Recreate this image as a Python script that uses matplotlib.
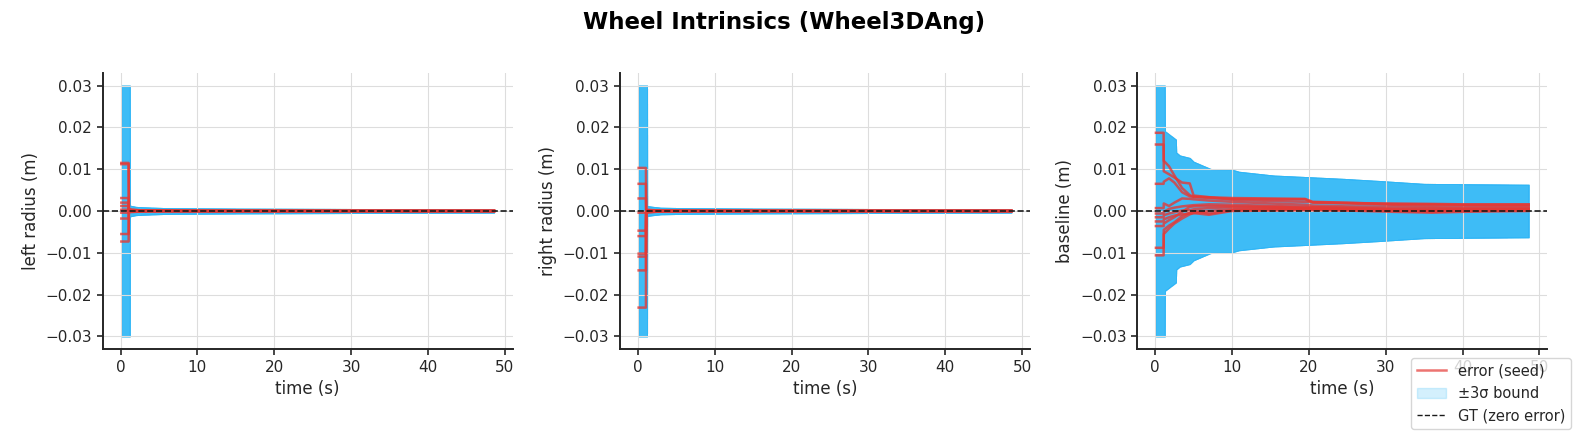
import numpy as np
import matplotlib
matplotlib.use("Agg")
import matplotlib.pyplot as plt
from matplotlib.lines import Line2D
from matplotlib.patches import Patch

# time knots (s) shared by the radius seeds
radius_t = [0.1, 1.05, 1.08, 3.0, 10.0, 48.6]
# left radius error per seed (m)
left_radius_err = [
    [0.0115, 0.0115, 0.0004, 0.0001, 0.0000, 0.0000],
    [0.0112, 0.0112, 0.0003, 0.0001, 0.0000, 0.0000],
    [0.0031, 0.0031, 0.0002, 0.0001, 0.0000, 0.0000],
    [0.0020, 0.0020, 0.0001, 0.0000, 0.0000, 0.0000],
    [0.0012, 0.0012, 0.0000, 0.0000, 0.0000, 0.0000],
    [0.0003, 0.0003, -0.0001, 0.0000, 0.0000, 0.0000],
    [-0.0004, -0.0004, -0.0002, -0.0001, 0.0000, 0.0000],
    [-0.0018, -0.0018, -0.0003, -0.0001, 0.0000, 0.0000],
    [-0.0055, -0.0055, -0.0001, 0.0000, 0.0000, 0.0000],
    [-0.0073, -0.0073, 0.0002, 0.0001, 0.0000, 0.0000],
]
right_radius_err = [
    [0.0103, 0.0103, 0.0003, 0.0001, 0.0000, 0.0000],
    [0.0065, 0.0065, 0.0002, 0.0001, 0.0000, 0.0000],
    [0.0030, 0.0030, 0.0001, 0.0000, 0.0000, 0.0000],
    [-0.0004, -0.0004, 0.0000, 0.0000, 0.0000, 0.0000],
    [-0.0047, -0.0047, -0.0001, 0.0000, 0.0000, 0.0000],
    [-0.0060, -0.0060, -0.0002, -0.0001, 0.0000, 0.0000],
    [-0.0102, -0.0102, -0.0003, -0.0001, 0.0000, 0.0000],
    [-0.0109, -0.0109, -0.0002, 0.0000, 0.0000, 0.0000],
    [-0.0142, -0.0142, 0.0001, 0.0000, 0.0000, 0.0000],
    [-0.0231, -0.0231, -0.0004, -0.0001, 0.0000, 0.0000],
]
# 3-sigma envelope for the radii
radius_sig_t = [0.1, 1.2, 1.22, 2.0, 3.0, 6.0, 15.0, 30.0, 48.6]
left_radius_sig = [0.03, 0.03, 0.0013, 0.0010, 0.0009, 0.0007, 0.0006, 0.0005, 0.0004]
right_radius_sig = [0.03, 0.03, 0.0012, 0.0010, 0.0008, 0.0007, 0.0006, 0.0005, 0.0004]

# baseline
baseline_t = [0.1, 1.1, 1.12, 1.8, 2.5, 3.5, 4.5, 5.0, 7.0, 10.0, 15.0, 19.5, 20.5, 25.0, 31.0, 36.0, 40.0, 48.6]
baseline_err = [
    [0.0187, 0.0187, 0.0120, 0.0107, 0.0085, 0.0055, 0.0038, 0.0034, 0.0031, 0.0029, 0.0028, 0.0028, 0.0020, 0.0018, 0.0015, 0.0014, 0.0013, 0.0012],
    [0.0159, 0.0159, 0.0095, 0.0088, 0.0080, 0.0068, 0.0066, 0.0037, 0.0033, 0.0031, 0.0030, 0.0029, 0.0022, 0.0020, 0.0016, 0.0016, 0.0015, 0.0015],
    [0.0065, 0.0065, 0.0070, 0.0078, 0.0068, 0.0045, 0.0035, 0.0034, 0.0033, 0.0027, 0.0024, 0.0022, 0.0021, 0.0019, 0.0018, 0.0017, 0.0016, 0.0016],
    [0.0007, 0.0007, 0.0018, 0.0012, 0.0020, 0.0030, 0.0029, 0.0028, 0.0025, 0.0022, 0.0018, 0.0015, 0.0013, 0.0011, 0.0010, 0.0009, 0.0008, 0.0008],
    [-0.0006, -0.0006, -0.0002, 0.0005, 0.0008, 0.0011, 0.0013, 0.0014, 0.0016, 0.0015, 0.0012, 0.0010, 0.0009, 0.0008, 0.0005, 0.0006, 0.0006, 0.0006],
    [-0.0015, -0.0015, -0.0010, -0.0006, -0.0003, 0.0001, 0.0002, 0.0004, 0.0007, 0.0009, 0.0008, 0.0007, 0.0007, 0.0005, 0.0003, 0.0002, 0.0003, 0.0004],
    [-0.0025, -0.0025, -0.0020, -0.0015, -0.0011, -0.0008, -0.0006, -0.0005, 0.0000, 0.0004, 0.0006, 0.0006, 0.0005, 0.0003, 0.0000, -0.0002, 0.0000, 0.0002],
    [-0.0036, -0.0036, -0.0030, -0.0022, -0.0015, -0.0002, 0.0010, 0.0011, 0.0012, 0.0011, 0.0010, 0.0008, 0.0008, 0.0006, 0.0004, 0.0003, 0.0003, 0.0003],
    [-0.0088, -0.0088, -0.0045, -0.0035, -0.0027, -0.0012, -0.0004, 0.0000, -0.0006, 0.0002, 0.0003, 0.0003, 0.0003, 0.0002, 0.0001, 0.0000, 0.0001, 0.0001],
    [-0.0106, -0.0106, -0.0055, -0.0042, -0.0030, -0.0018, -0.0008, -0.0005, -0.0009, 0.0000, 0.0001, 0.0002, 0.0002, 0.0001, -0.0002, -0.0004, -0.0002, 0.0000],
]
baseline_sig_t = [0.1, 1.25, 1.27, 2.7, 2.75, 3.2, 4.5, 5.0, 6.4, 7.3, 10.0, 10.9, 15.4, 20.0, 24.5, 29.1, 35.0, 48.6]
baseline_sig = [0.03, 0.03, 0.0191, 0.0171, 0.0140, 0.0133, 0.0127, 0.0118, 0.0107, 0.0100, 0.0099, 0.0094, 0.0085, 0.0081, 0.0077, 0.0072, 0.0065, 0.0063]

panels = [
    ("left radius (m)", radius_t, left_radius_err, radius_sig_t, left_radius_sig),
    ("right radius (m)", radius_t, right_radius_err, radius_sig_t, right_radius_sig),
    ("baseline (m)", baseline_t, baseline_err, baseline_sig_t, baseline_sig),
]

ERR_COLOR = "#e53935"
SIG_COLOR = "#29b6f6"
INK = "#262626"

plt.rcParams.update({
    "font.family": "DejaVu Sans",
    "text.color": INK,
    "axes.labelcolor": INK,
    "axes.edgecolor": INK,
    "xtick.color": INK,
    "ytick.color": INK,
    "axes.linewidth": 1.4,
    "xtick.major.size": 4.2,
    "ytick.major.size": 4.2,
    "xtick.major.width": 1.2,
    "ytick.major.width": 1.2,
    "xtick.labelsize": 11,
    "ytick.labelsize": 11,
    "axes.labelsize": 12,
})

W, H = 1579, 434
fig = plt.figure(figsize=(W / 100, H / 100), dpi=100)
lefts = [102.7, 620.0, 1137.3]
for (ylabel, t, errs, sig_t, sig), lx in zip(panels, lefts):
    ax = fig.add_axes([lx / W, (H - 349) / H, 410 / W, 276 / H])
    st = np.array(sig_t)
    sg = np.array(sig)
    for e in errs:
        ax.fill_between(st, -sg, sg, color=SIG_COLOR, alpha=0.2, lw=0.6)
    for e in errs:
        ax.plot(t, e, color=ERR_COLOR, alpha=0.8, lw=1.8)
    ax.axhline(0, color="#1a1a1a", ls="--", lw=1.2, zorder=5)
    ax.grid(True, color="#dddddd", lw=0.8)
    ax.set_axisbelow("line")
    ax.spines["top"].set_visible(False)
    ax.spines["right"].set_visible(False)
    ax.set_xticks([0, 10, 20, 30, 40, 50])
    ax.set_yticks([-0.03, -0.02, -0.01, 0.0, 0.01, 0.02, 0.03])
    ax.set_xlabel("time (s)")
    ax.set_ylabel(ylabel)

fig.suptitle("Wheel Intrinsics (Wheel3DAng)", x=784 / W, y=1 - 22 / H,
             va="center", fontsize=16.5, fontweight="bold", color="black")

handles = [
    Line2D([], [], color=ERR_COLOR, alpha=0.7, lw=1.8),
    Patch(facecolor=SIG_COLOR, edgecolor=SIG_COLOR, alpha=0.2),
    Line2D([], [], color="#1a1a1a", ls="--", lw=1.0),
]
fig.legend(handles, ["error (seed)", "\u00b13\u03c3 bound", "GT (zero error)"],
           loc="lower right", bbox_to_anchor=(1571 / W, 5 / H),
           borderaxespad=0, fontsize=10.5, framealpha=0.8, edgecolor="#cccccc")

fig.savefig("out.png", dpi=100)
